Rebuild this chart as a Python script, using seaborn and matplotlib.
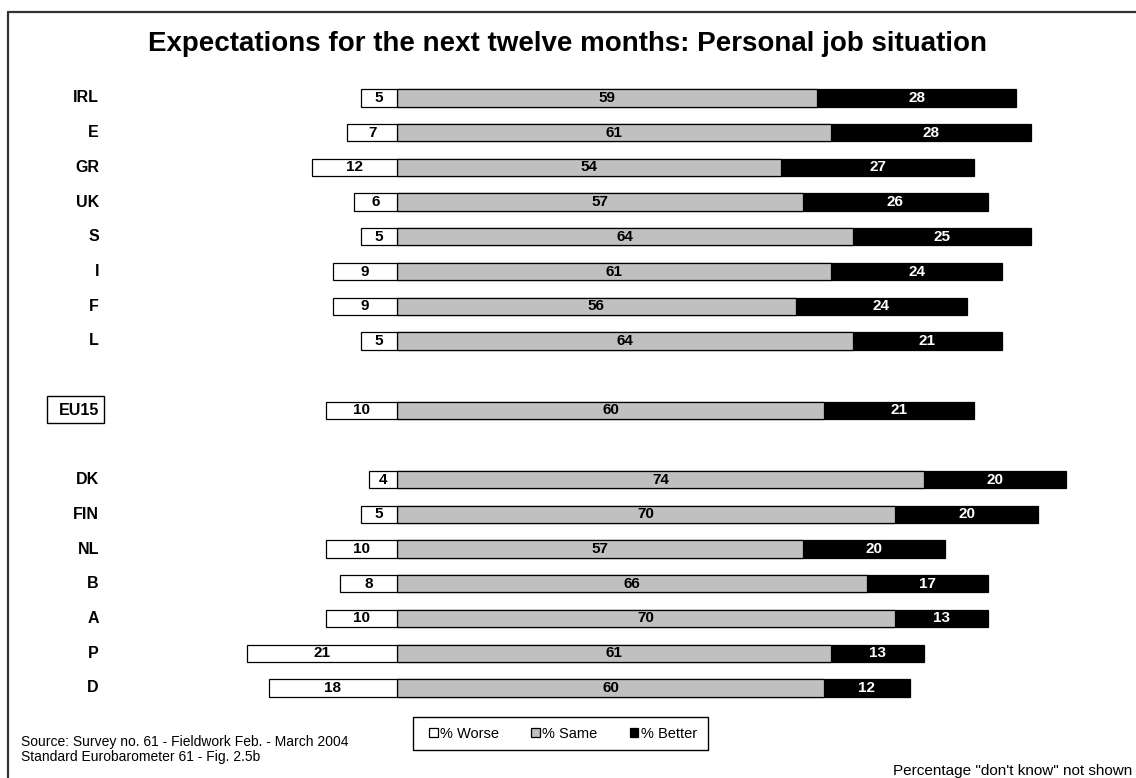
import matplotlib
matplotlib.use("Agg")
import matplotlib.pyplot as plt
from matplotlib.patches import Patch, Rectangle
from matplotlib.lines import Line2D
import numpy as np
import pandas as pd
import seaborn as sns

# Survey results: share expecting their job situation to get worse / stay the same / get better
countries = ["IRL", "E", "GR", "UK", "S", "I", "F", "L", "EU15",
             "DK", "FIN", "NL", "B", "A", "P", "D"]
worse = [5, 7, 12, 6, 5, 9, 9, 5, 10, 4, 5, 10, 8, 10, 21, 18]
same = [59, 61, 54, 57, 64, 61, 56, 64, 60, 74, 70, 57, 66, 70, 61, 60]
better = [28, 28, 27, 26, 25, 24, 24, 21, 21, 20, 20, 20, 17, 13, 13, 12]
# row slots, leaving blank rows around the EU15 average
row_slot = [0, 1, 2, 3, 4, 5, 6, 7, 9, 11, 12, 13, 14, 15, 16, 17]

legend_labels = ["% Worse", "% Same", "% Better"]
colors = {"worse": "#FFFFFF", "same": "#C0C0C0", "better": "#000000"}

df = pd.DataFrame({
    "country": countries, "pos": row_slot,
    "worse": worse, "same": same, "better": better,
})
df["neg_worse"] = -df["worse"]
df["same_better"] = df["same"] + df["better"]

W, H = 1136, 778
sns.set_theme(style="white")
plt.rcParams["font.family"] = ["Liberation Sans", "DejaVu Sans"]
plt.rcParams["text.color"] = "black"

fig = plt.figure(figsize=(W / 100, H / 100), dpi=100)
ax = fig.add_axes([0, 0, 1, 1])

def fx(px):
    return px / W

def fy(py):
    return 1 - py / H

common = dict(data=df, y="pos", orient="y", native_scale=True, width=0.5,
              errorbar=None, saturation=1, edgecolor="black", linewidth=0.9, ax=ax)
sns.barplot(x="same_better", color=colors["better"], **common)
sns.barplot(x="same", color=colors["same"], **common)
sns.barplot(x="neg_worse", color=colors["worse"], **common)

# horizontal scale: zero line sits at x=397 px, ~7.12 px per percentage point
scale = 7.12
x0 = 397
ax.set_xlim(-x0 / scale, (W - x0) / scale)
row_px, row_step = 98, 34.7
ax.set_ylim((H - row_px) / row_step, -row_px / row_step)
ax.axis("off")

# value labels centred in each segment
for _, r in df.iterrows():
    y = r["pos"]
    ax.text(-r["worse"] / 2, y, f"{r['worse']}", ha="center", va="center",
            fontsize=11, fontweight="bold", color="black")
    ax.text(r["same"] / 2, y, f"{r['same']}", ha="center", va="center",
            fontsize=11, fontweight="bold", color="black")
    ax.text(r["same"] + r["better"] / 2, y, f"{r['better']}", ha="center",
            va="center", fontsize=11, fontweight="bold", color="white")

# country labels, right aligned
for _, r in df.iterrows():
    y_px = row_px + row_step * r["pos"]
    fig.text(fx(99), fy(y_px), r["country"], ha="right", va="center",
             fontsize=11.5, fontweight="bold", color="black")

# box round the EU15 label
fig.add_artist(Rectangle((fx(47), fy(423)), fx(104) - fx(47), fy(396) - fy(423),
                         transform=fig.transFigure, facecolor="none",
                         edgecolor="black", linewidth=1.0))

# title
fig.text(0.5, fy(44), "Expectations for the next twelve months: Personal job situation",
         ha="center", va="center", fontsize=20, fontweight="bold", color="black")

# outer frame (top and left edges)
fig.add_artist(Line2D([fx(8), 1], [fy(12), fy(12)], transform=fig.transFigure,
                      color="#333333", linewidth=1.6))
fig.add_artist(Line2D([fx(8), fx(8)], [fy(12), 0], transform=fig.transFigure,
                      color="#333333", linewidth=1.6))

# legend
fig.add_artist(Rectangle((fx(413), fy(750)), fx(708) - fx(413), fy(717) - fy(750),
                         transform=fig.transFigure, facecolor="white",
                         edgecolor="black", linewidth=1.0))
handles = [Patch(facecolor=colors[k], edgecolor="black", linewidth=0.9)
           for k in ("worse", "same", "better")]
leg = fig.legend(handles, legend_labels, loc="center", bbox_to_anchor=(fx(563), fy(734)),
                 ncol=3, frameon=False, fontsize=10.5, handlelength=0.6, handleheight=0.6,
                 handletextpad=0.15, columnspacing=2.2, borderpad=0)
for t in leg.get_texts():
    t.set_color("black")

# footnotes
fig.text(fx(21), fy(742), "Source: Survey no. 61 - Fieldwork Feb. - March 2004",
         ha="left", va="center", fontsize=10, color="black")
fig.text(fx(21), fy(757), "Standard Eurobarometer 61 - Fig. 2.5b",
         ha="left", va="center", fontsize=10, color="black")
fig.text(fx(1132), fy(771), 'Percentage "don\'t know" not shown',
         ha="right", va="center", fontsize=11, color="black")

fig.savefig("out.png", dpi=100, facecolor="white")
